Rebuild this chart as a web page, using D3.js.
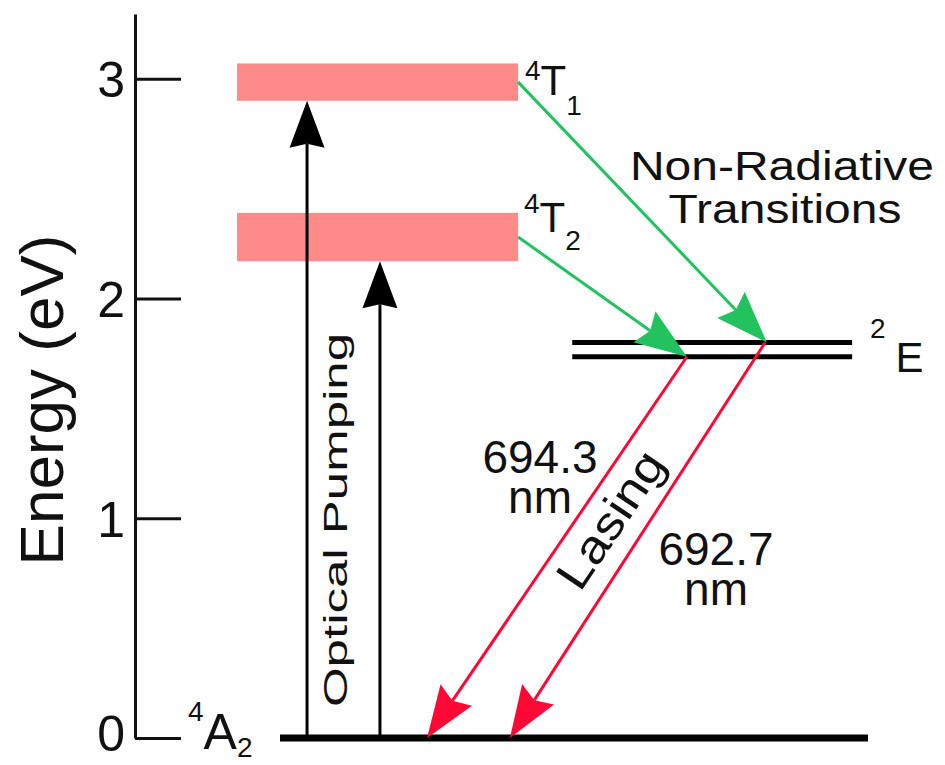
<!DOCTYPE html>
<html>
<head>
<meta charset="utf-8">
<script src="https://cdn.jsdelivr.net/npm/d3@7"></script>
<style>
body { margin: 0; background: #fff; }
text { font-family: "Liberation Sans", Arial, sans-serif; fill: #111; }
</style>
</head>
<body>
<div id="chart"></div>
<script>
// energy levels of ruby (eV)
var tickValues = [0, 1, 2, 3];
var bandNames = ["T1", "T2"];
var bandLow = [2.90, 2.17];
var bandHigh = [3.07, 2.39];
var eLevels = [1.80, 1.735];
var groundLevel = 0;

// pumping arrows: ground -> bottom of the bands
var pumpX = [0.046, 0.17];
var pumpTop = [2.90, 2.17];

// non-radiative: middle of band -> 2E level
var nrFrom = [2.985, 2.28];
var nrTo = [1.80, 1.735];
var nrToX = [0.828, 0.692];

// lasing: 2E -> ground
var lasFrom = [1.735, 1.80];
var lasFromX = [0.692, 0.825];
var lasToX = [0.25, 0.391];
var wavelengths = ["694.3", "692.7"];

var width = 945, height = 765;

var svg = d3.select("#chart")
	.append("svg")
	.attr("width", width)
	.attr("height", height);

var y = d3.scaleLinear().domain([0, 3.295]).range([738, 14]);
var x = d3.scaleLinear().domain([0, 1]).range([280, 868]);

var pink = "#ff8a8a", green = "#22c25e", red = "#ff0836";

// axis
var axis = d3.axisLeft(y)
	.tickValues(tickValues)
	.tickSize(-46)
	.tickSizeOuter(0)
	.tickPadding(10)
	.tickFormat(d3.format("d"));

var ax = svg.append("g")
	.attr("transform", "translate(135,0)")
	.call(axis);
ax.select(".domain").attr("stroke", "#111").attr("stroke-width", 3);
ax.selectAll(".tick line").attr("stroke", "#111").attr("stroke-width", 3);
ax.selectAll(".tick text")
	.attr("font-size", 50)
	.attr("font-family", "Liberation Sans, Arial, sans-serif")
	.attr("fill", "#111")
	.attr("dy", function(d) { return d == 0 ? "0.24em" : "0.36em"; });

svg.append("text")
	.attr("transform", "translate(63,400) rotate(-90)")
	.attr("text-anchor", "middle")
	.attr("font-size", 62)
	.text("Energy (eV)");

// bands
svg.selectAll("rect.band")
	.data(bandLow)
	.enter()
	.append("rect")
	.attr("class", "band")
	.attr("x", x(-0.073))
	.attr("width", x(0.405) - x(-0.073))
	.attr("y", function(d, i) { return y(bandHigh[i]); })
	.attr("height", function(d, i) { return y(d) - y(bandHigh[i]); })
	.attr("fill", pink);

// 2E doublet
svg.selectAll("line.elev")
	.data(eLevels)
	.enter()
	.append("line")
	.attr("x1", x(0.497))
	.attr("x2", x(0.973))
	.attr("y1", function(d) { return y(d); })
	.attr("y2", function(d) { return y(d); })
	.attr("stroke", "#000")
	.attr("stroke-width", 5);

// ground
svg.append("line")
	.attr("x1", x(0))
	.attr("x2", x(1))
	.attr("y1", y(groundLevel))
	.attr("y2", y(groundLevel))
	.attr("stroke", "#000")
	.attr("stroke-width", 7);

function arrow(x1, y1, x2, y2, color, len, half, notch) {
	var dx = x2 - x1, dy = y2 - y1;
	var l = Math.sqrt(dx*dx + dy*dy);
	var ux = dx / l, uy = dy / l;
	var px = -uy, py = ux;
	var bx = x2 - ux*len, by = y2 - uy*len;
	var nx = x2 - ux*(len - notch), ny = y2 - uy*(len - notch);
	svg.append("line")
		.attr("x1", x1).attr("y1", y1)
		.attr("x2", nx).attr("y2", ny)
		.attr("stroke", color)
		.attr("stroke-width", 3);
	svg.append("path")
		.attr("d", "M" + x2 + "," + y2 +
			"L" + (bx + px*half) + "," + (by + py*half) +
			"L" + nx + "," + ny +
			"L" + (bx - px*half) + "," + (by - py*half) + "Z")
		.attr("fill", color);
}

for (var i = 0; i < pumpX.length; i++) {
	arrow(x(pumpX[i]), y(groundLevel), x(pumpX[i]), y(pumpTop[i]), "#000", 47, 17.5, 4);
}
for (var i = 0; i < nrFrom.length; i++) {
	arrow(x(0.405), y(nrFrom[i]), x(nrToX[i]), y(nrTo[i]), green, 52, 19, 7);
}
for (var i = 0; i < lasFrom.length; i++) {
	arrow(x(lasFromX[i]), y(lasFrom[i]), x(lasToX[i]), y(groundLevel), red, 52, 19, 7);
}

// state labels
function stateLabel(px, py, sup, main, sub, mainSize, supUp, subDown, gap) {
	var t = svg.append("text").attr("x", px).attr("y", py);
	t.append("tspan").attr("font-size", 28).attr("dy", -supUp).text(sup);
	t.append("tspan").attr("font-size", mainSize).attr("dy", supUp).attr("dx", gap).text(main);
	if (sub) t.append("tspan").attr("font-size", 28).attr("dy", subDown).text(sub);
}
stateLabel(525, 95, "4", "T", "1", 42, 15, 20, 0);
stateLabel(524, 232, "4", "T", "2", 42, 19, 18, 0);
stateLabel(870, 372, "2", "E", null, 42, 34, 0, 10);
stateLabel(188, 749, "4", "A", "2", 50, 28, 8, 0);

// other labels
svg.append("text")
	.attr("transform", "translate(347,520) rotate(-90) scale(1.5,1)")
	.attr("text-anchor", "middle")
	.attr("font-size", 34)
	.text("Optical Pumping");

var nrText = svg.append("text")
	.attr("transform", "translate(782,180) scale(1.2,1)")
	.attr("text-anchor", "middle")
	.attr("font-size", 40);
nrText.append("tspan").attr("x", 0).text("Non-Radiative");
nrText.append("tspan").attr("x", 2.5).attr("dy", 43).text("Transitions");

svg.append("text")
	.attr("transform", "translate(580,593) rotate(-56) scale(1.15,1)")
	.attr("font-size", 46)
	.text("Lasing");

// wavelength labels, two lines in one text
var wlX = [540, 716], wlY = [473, 565];
var wl = svg.selectAll("text.wl")
	.data(wavelengths)
	.enter()
	.append("text")
	.attr("class", "wl")
	.attr("text-anchor", "middle")
	.attr("font-size", 46)
	.attr("y", function(d, i) { return wlY[i]; });
wl.append("tspan")
	.attr("x", function(d, i) { return wlX[i]; })
	.text(function(d) { return d; });
wl.append("tspan")
	.attr("x", function(d, i) { return wlX[i]; })
	.attr("dy", 40)
	.text("nm");
</script>
</body>
</html>
